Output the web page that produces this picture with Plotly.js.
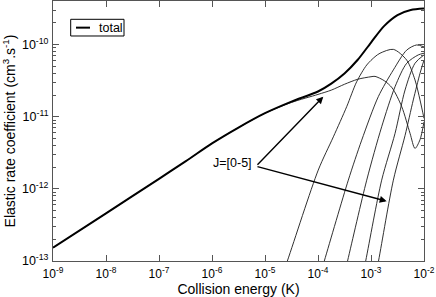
<!DOCTYPE html>
<html><head><meta charset="utf-8">
<script src="https://cdn.plot.ly/plotly-3.0.1.min.js"></script>
<style>html,body{margin:0;padding:0;background:#fff}#chart{width:436px;height:297px}</style>
</head><body><div id="chart"></div>
<script>
// Collision energies (K) and elastic rate coefficients (cm^3 s^-1)
const energyTotal = [1e-9, 1e-8, 1e-7, 3.16e-7, 1e-6, 3.16e-6, 1e-5, 3.16e-5, 1e-4, 1.78e-4, 3.16e-4, 5.62e-4, 1e-3, 1.78e-3, 3.16e-3, 5.62e-3, 1e-2];
const rateTotal   = [1.53e-13, 4.57e-13, 1.38e-12, 2.4e-12, 4.27e-12, 7.08e-12, 1.12e-11, 1.62e-11, 2.24e-11, 2.88e-11, 3.98e-11, 6.17e-11, 1.07e-10, 1.82e-10, 2.57e-10, 3.02e-10, 3.16e-10];

const energyJ0 = [1e-9, 1e-8, 1e-7, 3.16e-7, 1e-6, 3.16e-6, 1e-5, 3.16e-5, 1e-4, 1.78e-4, 3.16e-4, 5.62e-4, 1e-3, 1.19e-3, 1.78e-3, 2.51e-3, 3.8e-3, 5.45e-3, 6.76e-3, 8.4e-3, 1e-2];
const rateJ0   = [1.53e-13, 4.57e-13, 1.38e-12, 2.4e-12, 4.27e-12, 7.08e-12, 1.12e-11, 1.58e-11, 2.04e-11, 2.34e-11, 2.82e-11, 3.31e-11, 3.59e-11, 3.63e-11, 3.16e-11, 2.51e-11, 1.38e-11, 5.9e-12, 3.64e-12, 4.8e-12, 8.5e-12];

const energyJ1 = [1.58e-5, 2.64e-5, 1.01e-4, 1.95e-4, 3.48e-4, 5.37e-4, 8.3e-4, 1.19e-3, 1.48e-3, 2.64e-3, 4.72e-3, 6.76e-3, 8.41e-3, 1e-2];
const rateJ1   = [3.4e-14, 1.0e-13, 1.82e-12, 5.27e-12, 1.38e-11, 3.06e-11, 5.22e-11, 6.8e-11, 7.6e-11, 8.6e-11, 6.1e-11, 3.24e-11, 1.71e-11, 9.5e-12];

const energyJ2 = [7.94e-5, 1.315e-4, 3.73e-4, 6.68e-4, 1.374e-3, 2.64e-3, 4.72e-3, 7.28e-3, 1e-2];
const rateJ2   = [2.8e-14, 1.0e-13, 1.32e-12, 4.74e-12, 1.9e-11, 4.46e-11, 8.4e-11, 9.9e-11, 9.3e-11];

const energyJ3 = [2.51e-4, 3.61e-4, 8.3e-4, 1.59e-3, 2.84e-3, 4.72e-3, 7.8e-3, 1e-2];
const rateJ3   = [3.2e-14, 1.0e-13, 1.32e-12, 7.26e-12, 2.61e-11, 5.52e-11, 7.2e-11, 7.6e-11];

const energyJ4 = [5.62e-4, 7.94e-4, 1.59e-3, 2.84e-3, 4.39e-3, 6.76e-3, 1e-2];
const rateJ4   = [2.8e-14, 1.0e-13, 1.32e-12, 5.87e-12, 2.35e-11, 5.52e-11, 7.2e-11];

const energyJ5 = [1e-3, 1.387e-3, 2.64e-3, 4.39e-3, 6.28e-3, 8.41e-3, 1e-2];
const rateJ5   = [2.8e-14, 1.0e-13, 1.32e-12, 5.5e-12, 1.71e-11, 4.0e-11, 6.1e-11];

const xTickVals = [1e-9, 1e-8, 1e-7, 1e-6, 1e-5, 1e-4, 1e-3, 1e-2];
const xTickText = ['10<sup>-9</sup>', '10<sup>-8</sup>', '10<sup>-7</sup>', '10<sup>-6</sup>', '10<sup>-5</sup>', '10<sup>-4</sup>', '10<sup>-3</sup>', '10<sup>-2</sup>'];
const yTickVals = [1e-13, 1e-12, 1e-11, 1e-10];
const yTickText = ['10<sup>-13</sup>', '10<sup>-12</sup>', '10<sup>-11</sup>', '10<sup>-10</sup>'];

const partials = [
  [energyJ0, rateJ0], [energyJ1, rateJ1], [energyJ2, rateJ2],
  [energyJ3, rateJ3], [energyJ4, rateJ4], [energyJ5, rateJ5]
];

const minorVals = [];
for (let d = -13; d <= -10; d++) {
  for (let m = 2; m <= 9; m++) minorVals.push(m * Math.pow(10, d));
}

const traces = partials.map((p, i) => ({
  x: p[0], y: p[1], mode: 'lines', name: 'J=' + i, showlegend: false,
  line: {color: '#1a1a1a', width: 0.9, shape: 'spline', smoothing: 0.8}
}));
traces.push({
  x: energyTotal, y: rateTotal, mode: 'lines', name: 'total', showlegend: false,
  line: {color: '#000', width: 2, shape: 'spline', smoothing: 0.8}
});

const font = {family: 'Liberation Sans, Arial, sans-serif', color: '#000'};
const layout = {
  width: 436, height: 297,
  margin: {l: 53, r: 12, t: 1, b: 36},
  paper_bgcolor: '#fff', plot_bgcolor: '#fff',
  font: Object.assign({size: 12}, font),
  showlegend: false,
  xaxis: {
    type: 'log', range: [-9, -2],
    tickmode: 'array', tickvals: xTickVals, ticktext: xTickText,
    ticks: 'inside', ticklen: 6, tickcolor: '#555', tickwidth: 1,
    ticklabelstandoff: 2,
    showline: true, linecolor: '#555', linewidth: 1, mirror: 'ticks',
    showgrid: false, zeroline: false,
    tickfont: Object.assign({size: 12}, font),
    title: {text: 'Collision energy (K)', font: Object.assign({size: 14}, font), standoff: 4}
  },
  yaxis: {
    type: 'log', range: [-13, -9.395],
    tickmode: 'array', tickvals: yTickVals, ticktext: yTickText,
    ticks: 'inside', ticklen: 6, tickcolor: '#555', tickwidth: 1,
    ticklabelstandoff: 1,
    minor: {ticks: 'inside', ticklen: 3, tickcolor: '#555', tickvals: minorVals, showgrid: false},
    showline: true, linecolor: '#555', linewidth: 1, mirror: 'ticks',
    showgrid: false, zeroline: false,
    tickfont: Object.assign({size: 12.5}, font),
    title: {text: 'Elastic rate coefficient (cm<sup>3</sup>.s<sup>-1</sup>)', font: Object.assign({size: 14}, font), standoff: 5}
  },
  shapes: [
    // legend box and sample line
    {type: 'rect', xref: 'paper', yref: 'paper', x0: 0.0477, x1: 0.1914, y0: 0.8654, y1: 0.9296,
     line: {color: '#000', width: 1}, fillcolor: '#fff', layer: 'above'},
    {type: 'line', xref: 'paper', yref: 'paper', x0: 0.062, x1: 0.0997, y0: 0.8975, y1: 0.8975,
     line: {color: '#000', width: 2}, layer: 'above'}
  ],
  annotations: [
    {x: 0.1194, y: 0.8975, xref: 'paper', yref: 'paper', text: 'total', showarrow: false,
     xanchor: 'left', yanchor: 'middle', font: Object.assign({size: 12.5}, font)},
    {x: -5.21, y: -11.64, xref: 'x', yref: 'y', text: 'J=[0-5]', showarrow: false,
     xanchor: 'right', yanchor: 'middle', font: Object.assign({size: 12.5}, font)},
    {x: -3.9, y: -10.722, xref: 'x', yref: 'y', ax: -5.17, ay: -11.685, axref: 'x', ayref: 'y',
     text: '', showarrow: true, arrowhead: 2, arrowsize: 1, arrowwidth: 1.4, arrowcolor: '#000', standoff: 0},
    {x: -2.704, y: -12.171, xref: 'x', yref: 'y', ax: -5.17, ay: -11.685, axref: 'x', ayref: 'y',
     text: '', showarrow: true, arrowhead: 2, arrowsize: 1, arrowwidth: 1.4, arrowcolor: '#000', standoff: 0}
  ]
};

Plotly.newPlot('chart', traces, layout, {displayModeBar: false, staticPlot: true});
</script>
</body></html>
